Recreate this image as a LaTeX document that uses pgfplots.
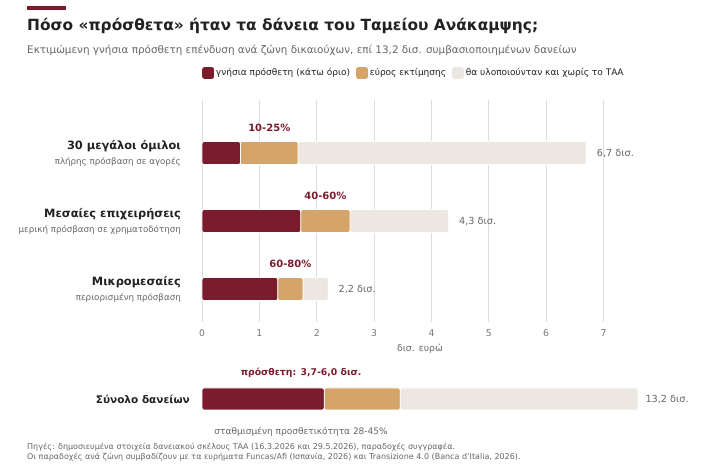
\documentclass[border=0pt]{standalone}
\usepackage{pgfplots}
\pgfplotsset{compat=1.18}
\usepackage{fontspec}
\setmainfont{DejaVu Sans}
\definecolor{dred}{HTML}{7B1C2E}
\definecolor{ctan}{HTML}{D4A468}
\definecolor{clight}{HTML}{ECE8E1}
\definecolor{ctitle}{HTML}{222222}
\definecolor{csub}{HTML}{666666}
\definecolor{ctick}{HTML}{777777}
\definecolor{cgrid}{HTML}{DDDDDD}
\newcommand{\fs}[1]{\fontsize{#1}{#1}\selectfont}
\begin{document}
\begin{tikzpicture}[x=1pt,y=1pt]
\useasboundingbox (0,0) rectangle (710,465);
\fill[dred] (27,455) rectangle (66,459);
\node[anchor=base west, inner sep=0, font=\fs{15.4}\bfseries, text=ctitle] at (27,434) {Πόσο «πρόσθετα» ήταν τα δάνεια του Ταμείου Ανάκαμψης;};
\node[anchor=base west, inner sep=0, font=\fs{10.4}, text=csub] at (27,411) {Εκτιμώμενη γνήσια πρόσθετη επένδυση ανά ζώνη δικαιούχων, επί 13,2 δισ. συμβασιοποιημένων δανείων};
\node[anchor=base west, inner sep=0, font=\fs{8}, text=csub] at (27,15) {Πηγές: δημοσιευμένα στοιχεία δανειακού σκέλους ΤΑΑ (16.3.2026 και 29.5.2026), παραδοχές συγγραφέα.};
\node[anchor=base west, inner sep=0, font=\fs{8}, text=csub] at (27,5) {Οι παραδοχές ανά ζώνη συμβαδίζουν με τα ευρήματα Funcas/Afi (Ισπανία, 2026) και Transizione 4.0 (Banca d’Italia, 2026).};

\begin{axis}[at={(202pt,143pt)}, anchor=south west, scale only axis,
  width=436pt, height=222pt, xmin=0, xmax=7.6, ymin=-0.485, ymax=2.78,
  xbar stacked, bar width=23pt, clip=false,
  axis line style={draw=none}, ytick=\empty, xtick={0,...,7},
  xmajorgrids, grid style={color=cgrid, line width=0.8pt},
  major tick length=0pt,
  tick label style={font=\fs{9.3}, text=ctick},
  xticklabel style={yshift=-4pt},
  /pgf/number format/assume math mode=true,
  xlabel={δισ. ευρώ}, xlabel style={font=\fs{9.3}, text=csub, yshift=-1pt},
  legend columns=3,
  legend style={at={(0,1.1216)}, anchor=west, draw=none, fill=none, inner sep=0pt,
    font=\fs{9}, text=ctitle,
    /tikz/every even column/.append style={column sep=4pt}},
  ]
\addplot[fill=dred, draw=white, line width=0.8pt, rounded corners=2pt,
  legend image code/.code={\fill[dred] (0pt,-5.5pt) rectangle (11pt,5.5pt);}]
  coordinates {(0.67,2) (1.72,1) (1.32,0)};
\addlegendentry{γνήσια πρόσθετη (κάτω όριο)}
\addplot[fill=ctan, draw=white, line width=0.8pt, rounded corners=2pt,
  legend image code/.code={\fill[ctan] (0pt,-5.5pt) rectangle (11pt,5.5pt);}]
  coordinates {(1.005,2) (0.86,1) (0.44,0)};
\addlegendentry{εύρος εκτίμησης}
\addplot[fill=clight, draw=white, line width=0.8pt, rounded corners=2pt,
  legend image code/.code={\fill[clight] (0pt,-5.5pt) rectangle (11pt,5.5pt);}]
  coordinates {(5.025,2) (1.72,1) (0.44,0)};
\addlegendentry{θα υλοποιούνταν και χωρίς το ΤΑΑ}

\node[font=\fs{10}\bfseries, text=dred, yshift=25pt] at (axis cs:1.1725,2) {10-25\%};
\node[font=\fs{10}\bfseries, text=dred, yshift=25pt] at (axis cs:2.15,1) {40-60\%};
\node[font=\fs{10}\bfseries, text=dred, yshift=25pt] at (axis cs:1.54,0) {60-80\%};

\node[anchor=west, font=\fs{9.7}, text=csub, xshift=7pt] at (axis cs:6.7,2) {6,7 δισ.};
\node[anchor=west, font=\fs{9.7}, text=csub, xshift=7pt] at (axis cs:4.3,1) {4,3 δισ.};
\node[anchor=west, font=\fs{9.7}, text=csub, xshift=7pt] at (axis cs:2.2,0) {2,2 δισ.};

\node[anchor=east, inner sep=0, font=\fs{11.4}\bfseries, text=ctitle, xshift=-21pt, yshift=7pt] at (axis cs:0,2) {30 μεγάλοι όμιλοι};
\node[anchor=east, inner sep=0, font=\fs{8.7}, text=csub, xshift=-21pt, yshift=-9pt] at (axis cs:0,2) {πλήρης πρόσβαση σε αγορές};
\node[anchor=east, inner sep=0, font=\fs{11.4}\bfseries, text=ctitle, xshift=-21pt, yshift=7pt] at (axis cs:0,1) {Μεσαίες επιχειρήσεις};
\node[anchor=east, inner sep=0, font=\fs{8.7}, text=csub, xshift=-21pt, yshift=-9pt] at (axis cs:0,1) {μερική πρόσβαση σε χρηματοδότηση};
\node[anchor=east, inner sep=0, font=\fs{11.4}\bfseries, text=ctitle, xshift=-21pt, yshift=7pt] at (axis cs:0,0) {Μικρομεσαίες};
\node[anchor=east, inner sep=0, font=\fs{8.7}, text=csub, xshift=-21pt, yshift=-9pt] at (axis cs:0,0) {περιορισμένη πρόσβαση};
\end{axis}

\begin{axis}[at={(202pt,55pt)}, anchor=south west, scale only axis,
  width=436pt, height=22pt, xmin=0, xmax=13.2, ymin=-0.5, ymax=0.5,
  xbar stacked, bar width=22pt, hide axis, clip=false]
\addplot[fill=dred, draw=white, line width=0.8pt, rounded corners=2pt] coordinates {(3.7,0)};
\addplot[fill=ctan, draw=white, line width=0.8pt, rounded corners=2pt] coordinates {(2.3,0)};
\addplot[fill=clight, draw=white, line width=0.8pt, rounded corners=2pt] coordinates {(7.2,0)};
\node[font=\fs{9.3}\bfseries, text=dred, yshift=26pt] at (axis cs:3.0,0) {πρόσθετη: 3,7-6,0 δισ.};
\node[font=\fs{9}, text=csub, yshift=-33pt] at (axis cs:3.0,0) {σταθμισμένη προσθετικότητα 28-45\%};
\node[anchor=west, font=\fs{9.7}, text=csub, xshift=4pt] at (axis cs:13.2,0) {13,2 δισ.};
\node[anchor=east, inner sep=0, font=\fs{10.5}\bfseries, text=ctitle, xshift=-12pt] at (axis cs:0,0) {Σύνολο δανείων};
\end{axis}
\end{tikzpicture}
\end{document}
